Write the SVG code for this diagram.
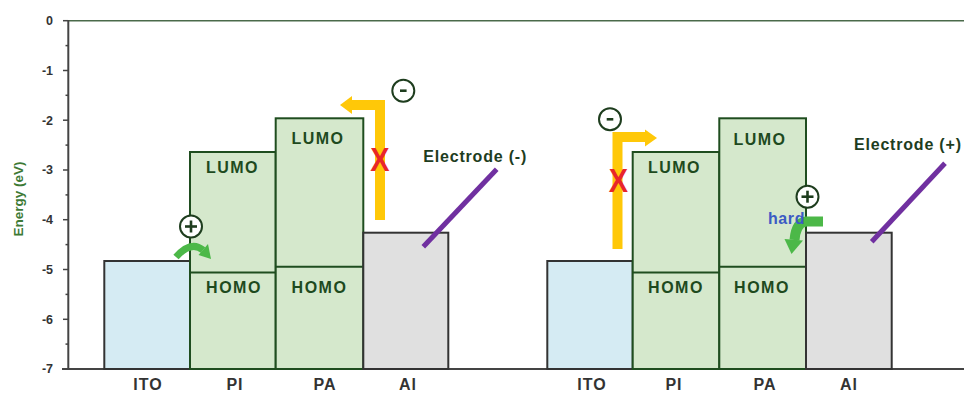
<svg xmlns="http://www.w3.org/2000/svg" width="964" height="395" viewBox="0 0 964 395">
<style>
text{font-family:"Liberation Sans",Arial,sans-serif;font-weight:bold}
.tick{font-size:12.5px;fill:#333;text-anchor:end}
.lvl{font-size:16px;fill:#1e4a1e;text-anchor:middle;letter-spacing:1.5px}
.mat{font-size:16px;fill:#333;text-anchor:middle;letter-spacing:1px}
.elec{font-size:16px;fill:#1e3d1e;letter-spacing:0.8px}
.ito{fill:#d5ebf3;stroke:#333;stroke-width:2}
.org{fill:#d5e8cc;stroke:#1f4d1f;stroke-width:2}
.al{fill:#e0e0e0;stroke:#333;stroke-width:2}
.sep{stroke:#1f4d1f;stroke-width:2}
.yel{fill:none;stroke:#ffc808;stroke-width:10}
.yelh{fill:#ffc808}
.grn{fill:none;stroke:#4cb848}
.grnh{fill:#4cb848}
.pur{stroke:#7030a0;stroke-width:5}
.x{font-size:34px;fill:#e8262a;text-anchor:middle}
.chg{fill:#fff;stroke:#1e3d1e;stroke-width:2}
.sgn{stroke:#1e3d1e;stroke-width:2.6}
</style>
<g id="axes">
<line x1="68" y1="20.7" x2="964" y2="20.7" stroke="#4a6a4a" stroke-width="1.5"/>
<line x1="62" y1="369" x2="964" y2="369" stroke="#444" stroke-width="2"/>
<line x1="68.3" y1="20" x2="68.3" y2="370" stroke="#444" stroke-width="2"/>
<g stroke="#444" stroke-width="1.5">
<line x1="63" y1="20.7" x2="68" y2="20.7"/><line x1="63" y1="70.5" x2="68" y2="70.5"/><line x1="63" y1="120.2" x2="68" y2="120.2"/><line x1="63" y1="170" x2="68" y2="170"/><line x1="63" y1="219.7" x2="68" y2="219.7"/><line x1="63" y1="269.5" x2="68" y2="269.5"/><line x1="63" y1="319.3" x2="68" y2="319.3"/>
<line x1="65.5" y1="45.6" x2="68" y2="45.6"/><line x1="65.5" y1="95.3" x2="68" y2="95.3"/><line x1="65.5" y1="145.1" x2="68" y2="145.1"/><line x1="65.5" y1="194.9" x2="68" y2="194.9"/><line x1="65.5" y1="244.6" x2="68" y2="244.6"/><line x1="65.5" y1="294.4" x2="68" y2="294.4"/><line x1="65.5" y1="344.1" x2="68" y2="344.1"/>
</g>
<text class="tick" x="53" y="25">0</text>
<text class="tick" x="53" y="75">-1</text>
<text class="tick" x="53" y="124.5">-2</text>
<text class="tick" x="53" y="174.3">-3</text>
<text class="tick" x="53" y="224">-4</text>
<text class="tick" x="53" y="273.8">-5</text>
<text class="tick" x="53" y="323.6">-6</text>
<text class="tick" x="53" y="373.3">-7</text>
<text x="0" y="0" transform="translate(22.5,199) rotate(-90)" font-size="13.5" fill="#3d7a35" text-anchor="middle">Energy (eV)</text>
</g>
<g id="left-ITO"><rect class="ito" x="104.3" y="261" width="85.7" height="108"/><text class="mat" x="148" y="390">ITO</text></g>
<g id="left-PI"><rect class="org" x="190" y="152" width="85.7" height="217"/><line class="sep" x1="190" y1="272.5" x2="275.7" y2="272.5"/><text class="lvl" x="232.5" y="172.7">LUMO</text><text class="lvl" x="234" y="293.3">HOMO</text><text class="mat" x="235" y="390">PI</text></g>
<g id="left-PA"><rect class="org" x="275.7" y="118.3" width="87.6" height="250.7"/><line class="sep" x1="275.7" y1="266.7" x2="363.3" y2="266.7"/><text class="lvl" x="318" y="144">LUMO</text><text class="lvl" x="319.5" y="293.3">HOMO</text><text class="mat" x="325" y="390">PA</text></g>
<g id="left-Al"><rect class="al" x="363.3" y="232.7" width="85" height="136.3"/><text class="mat" x="408" y="390">Al</text></g>
<g id="right-ITO"><rect class="ito" x="547.3" y="261" width="85.4" height="108"/><text class="mat" x="592" y="390">ITO</text></g>
<g id="right-PI"><rect class="org" x="632.7" y="152" width="86.6" height="217"/><line class="sep" x1="632.7" y1="272.5" x2="719.3" y2="272.5"/><text class="lvl" x="674.5" y="172.7">LUMO</text><text class="lvl" x="676" y="293.3">HOMO</text><text class="mat" x="674" y="390">PI</text></g>
<g id="right-PA"><rect class="org" x="719.3" y="118.3" width="86.7" height="250.7"/><line class="sep" x1="719.3" y1="266.7" x2="806" y2="266.7"/><text class="lvl" x="760" y="145">LUMO</text><text class="lvl" x="762" y="293.3">HOMO</text><text class="mat" x="765" y="390">PA</text></g>
<g id="right-Al"><rect class="al" x="806" y="232.7" width="85.7" height="136.3"/><text class="mat" x="849" y="390">Al</text></g>
<g id="connectors">
<polyline class="yel" points="380,220 380,105 350,105"/>
<polygon class="yelh" points="340,105 352,96 352,114"/>
<polyline class="yel" points="617.5,249 617.5,137 646,137"/>
<polygon class="yelh" points="657,138 645,129.5 645,146.5"/>
<path class="grn" stroke-width="7" d="M176,257 Q191,240 203,250"/>
<polygon class="grnh" points="211,259 198.5,255 208,244"/>
<path class="grn" stroke-width="10" d="M823,221.5 L806,221.5 Q796,222.5 794.5,240"/>
<polygon class="grnh" points="784.5,239 803,240.5 791.5,254"/>
<line class="pur" x1="423.3" y1="246.7" x2="496.7" y2="169.3"/>
<line class="pur" x1="871.7" y1="241.7" x2="945" y2="163.3"/>
</g>
<g id="marks">
<text class="x" x="380" y="171.5" transform="translate(380,0) scale(0.85,1) translate(-380,0)">X</text>
<text class="x" x="618.3" y="191.7" transform="translate(618.3,0) scale(0.85,1) translate(-618.3,0)">X</text>
</g>
<g id="charge-left-plus"><circle class="chg" cx="191" cy="226.5" r="11"/><line class="sgn" x1="185" y1="226.5" x2="197" y2="226.5"/><line class="sgn" x1="191" y1="220.5" x2="191" y2="232.5"/></g>
<g id="charge-left-minus"><circle class="chg" cx="403.3" cy="90.7" r="11"/><line class="sgn" x1="400" y1="90.7" x2="406.6" y2="90.7"/></g>
<g id="charge-right-minus"><circle class="chg" cx="610" cy="119.3" r="11"/><line class="sgn" x1="606.7" y1="119.3" x2="613.3" y2="119.3"/></g>
<g id="charge-right-plus"><circle class="chg" cx="807.5" cy="196.7" r="11"/><line class="sgn" x1="801.5" y1="196.7" x2="813.5" y2="196.7"/><line class="sgn" x1="807.5" y1="190.7" x2="807.5" y2="202.7"/></g>
<g id="label-hard"><text x="768" y="224" font-size="16" fill="#3b5bc4" letter-spacing="0.6">hard</text></g>
<g id="label-electrode-minus"><text class="elec" x="423.3" y="161.7">Electrode (-)</text></g>
<g id="label-electrode-plus"><text class="elec" x="854" y="150">Electrode (+)</text></g>
</svg>
